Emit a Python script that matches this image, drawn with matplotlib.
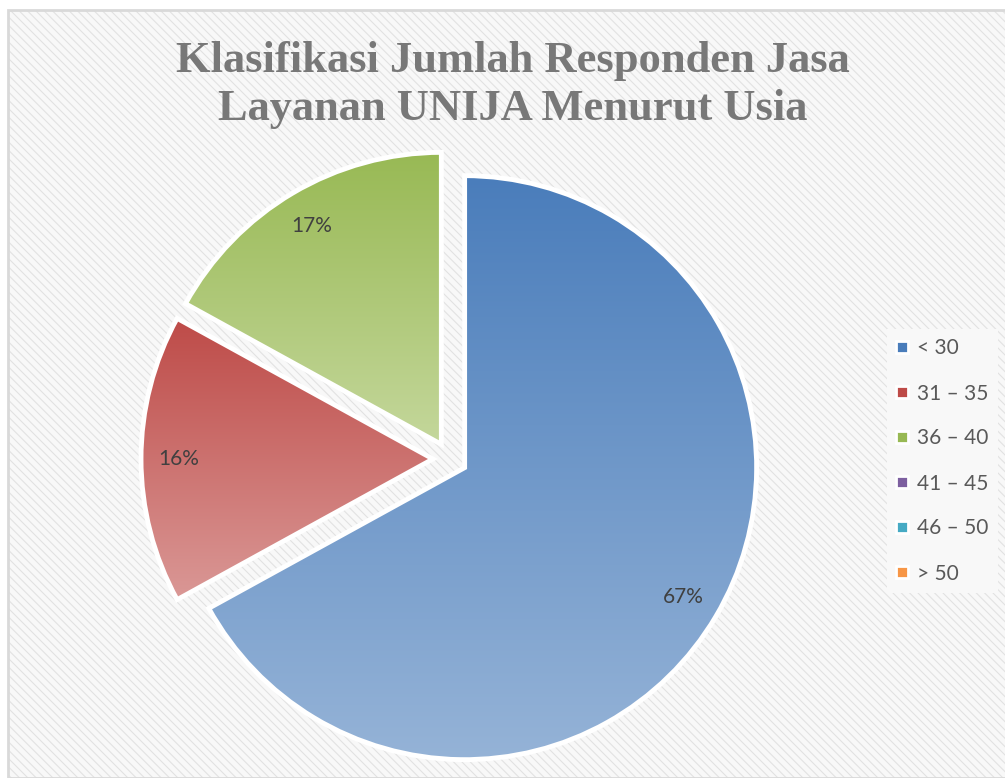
import matplotlib.pyplot as plt
import numpy as np
from matplotlib.colors import LinearSegmentedColormap
from matplotlib.patches import Rectangle

# data
age_groups = ['< 30', '31 – 35', '36 – 40', '41 – 45', '46 – 50', '> 50']
percent = [67, 16, 17, 0, 0, 0]
top_colors = ['#4a7dbb', '#be4b48', '#98b954', '#7d60a0', '#46aac4', '#f79646']
bottom_colors = ['#95b3d7', '#da9896', '#c4d79b', '#b3a2c7', '#93cddd', '#fac090']
title_lines = ['Klasifikasi Jumlah Responden Jasa', 'Layanan UNIJA Menurut Usia']

plt.rcParams['hatch.linewidth'] = 0.8

W, H = 1005, 778
fig = plt.figure(figsize=(W / 100, H / 100), dpi=100)
fig.patch.set_facecolor('white')

# hatched chart area background with thin grey border
bg = Rectangle((8 / W, 0), 1, (H - 10) / H, transform=fig.transFigure,
               facecolor='#f8f8f8', edgecolor='#e2e2e2', linewidth=0,
               hatch='\\\\\\\\', zorder=0)
fig.patches.append(bg)
frame = Rectangle((8 / W, 0), 1, (H - 10) / H, transform=fig.transFigure,
                  facecolor='none', edgecolor='#d9d9d9', linewidth=2, zorder=0.5)
fig.patches.append(frame)

ax = fig.add_axes([0, 0, 1, 1])
ax.set_zorder(1)
ax.patch.set_visible(False)
ax.set_xlim(0, W)
ax.set_ylim(0, H)
ax.axis('off')

vals = [v for v in percent if v > 0]
n = len(vals)
wedges, texts, autotexts = ax.pie(
    vals, center=(450, 319), radius=292, startangle=90, counterclock=False,
    explode=[17] * n, autopct='%1.0f%%', pctdistance=0.87,
    wedgeprops=dict(facecolor='none', edgecolor='white', linewidth=3.5),
    textprops=dict(fontsize=15, color='#404040', family='Lato'),
    frame=False)

# vertical gradient fill clipped to each wedge
for i, w in enumerate(wedges):
    w.set_zorder(3)
    bb = w.get_path().get_extents()
    cmap = LinearSegmentedColormap.from_list('g%d' % i, [bottom_colors[i], top_colors[i]])
    grad = np.linspace(0, 1, 256).reshape(-1, 1)
    im = ax.imshow(grad, extent=[bb.x0, bb.x1, bb.y0, bb.y1], origin='lower',
                   cmap=cmap, aspect='auto', zorder=2, interpolation='bilinear')
    im.set_clip_path(w)
for t in autotexts:
    t.set_zorder(4)

ax.set_xlim(0, W)
ax.set_ylim(0, H)

for k, line in enumerate(title_lines):
    fig.text(513 / W, 1 - (72 + 48 * k) / H, line, ha='center', va='baseline',
             fontsize=32, fontweight='bold', color='#787878',
             family='Liberation Serif', zorder=5)

handles = [Rectangle((0, 0), 1, 1, facecolor=c, edgecolor='white', linewidth=2)
           for c in top_colors]
leg = fig.legend(handles, age_groups, loc='center left',
                 bbox_to_anchor=(887 / W, 1 - 461 / H), frameon=True,
                 prop=dict(family='Lato', size=15), labelcolor='#595959',
                 handlelength=0.55, handleheight=0.55, handletextpad=0.45,
                 labelspacing=1.2, borderpad=0.45, borderaxespad=0, fancybox=False)
leg.get_frame().set_facecolor('#f8f8f8')
leg.get_frame().set_edgecolor('none')
leg.get_frame().set_alpha(1)
leg.set_zorder(6)

fig.savefig('out.png', dpi=100)
